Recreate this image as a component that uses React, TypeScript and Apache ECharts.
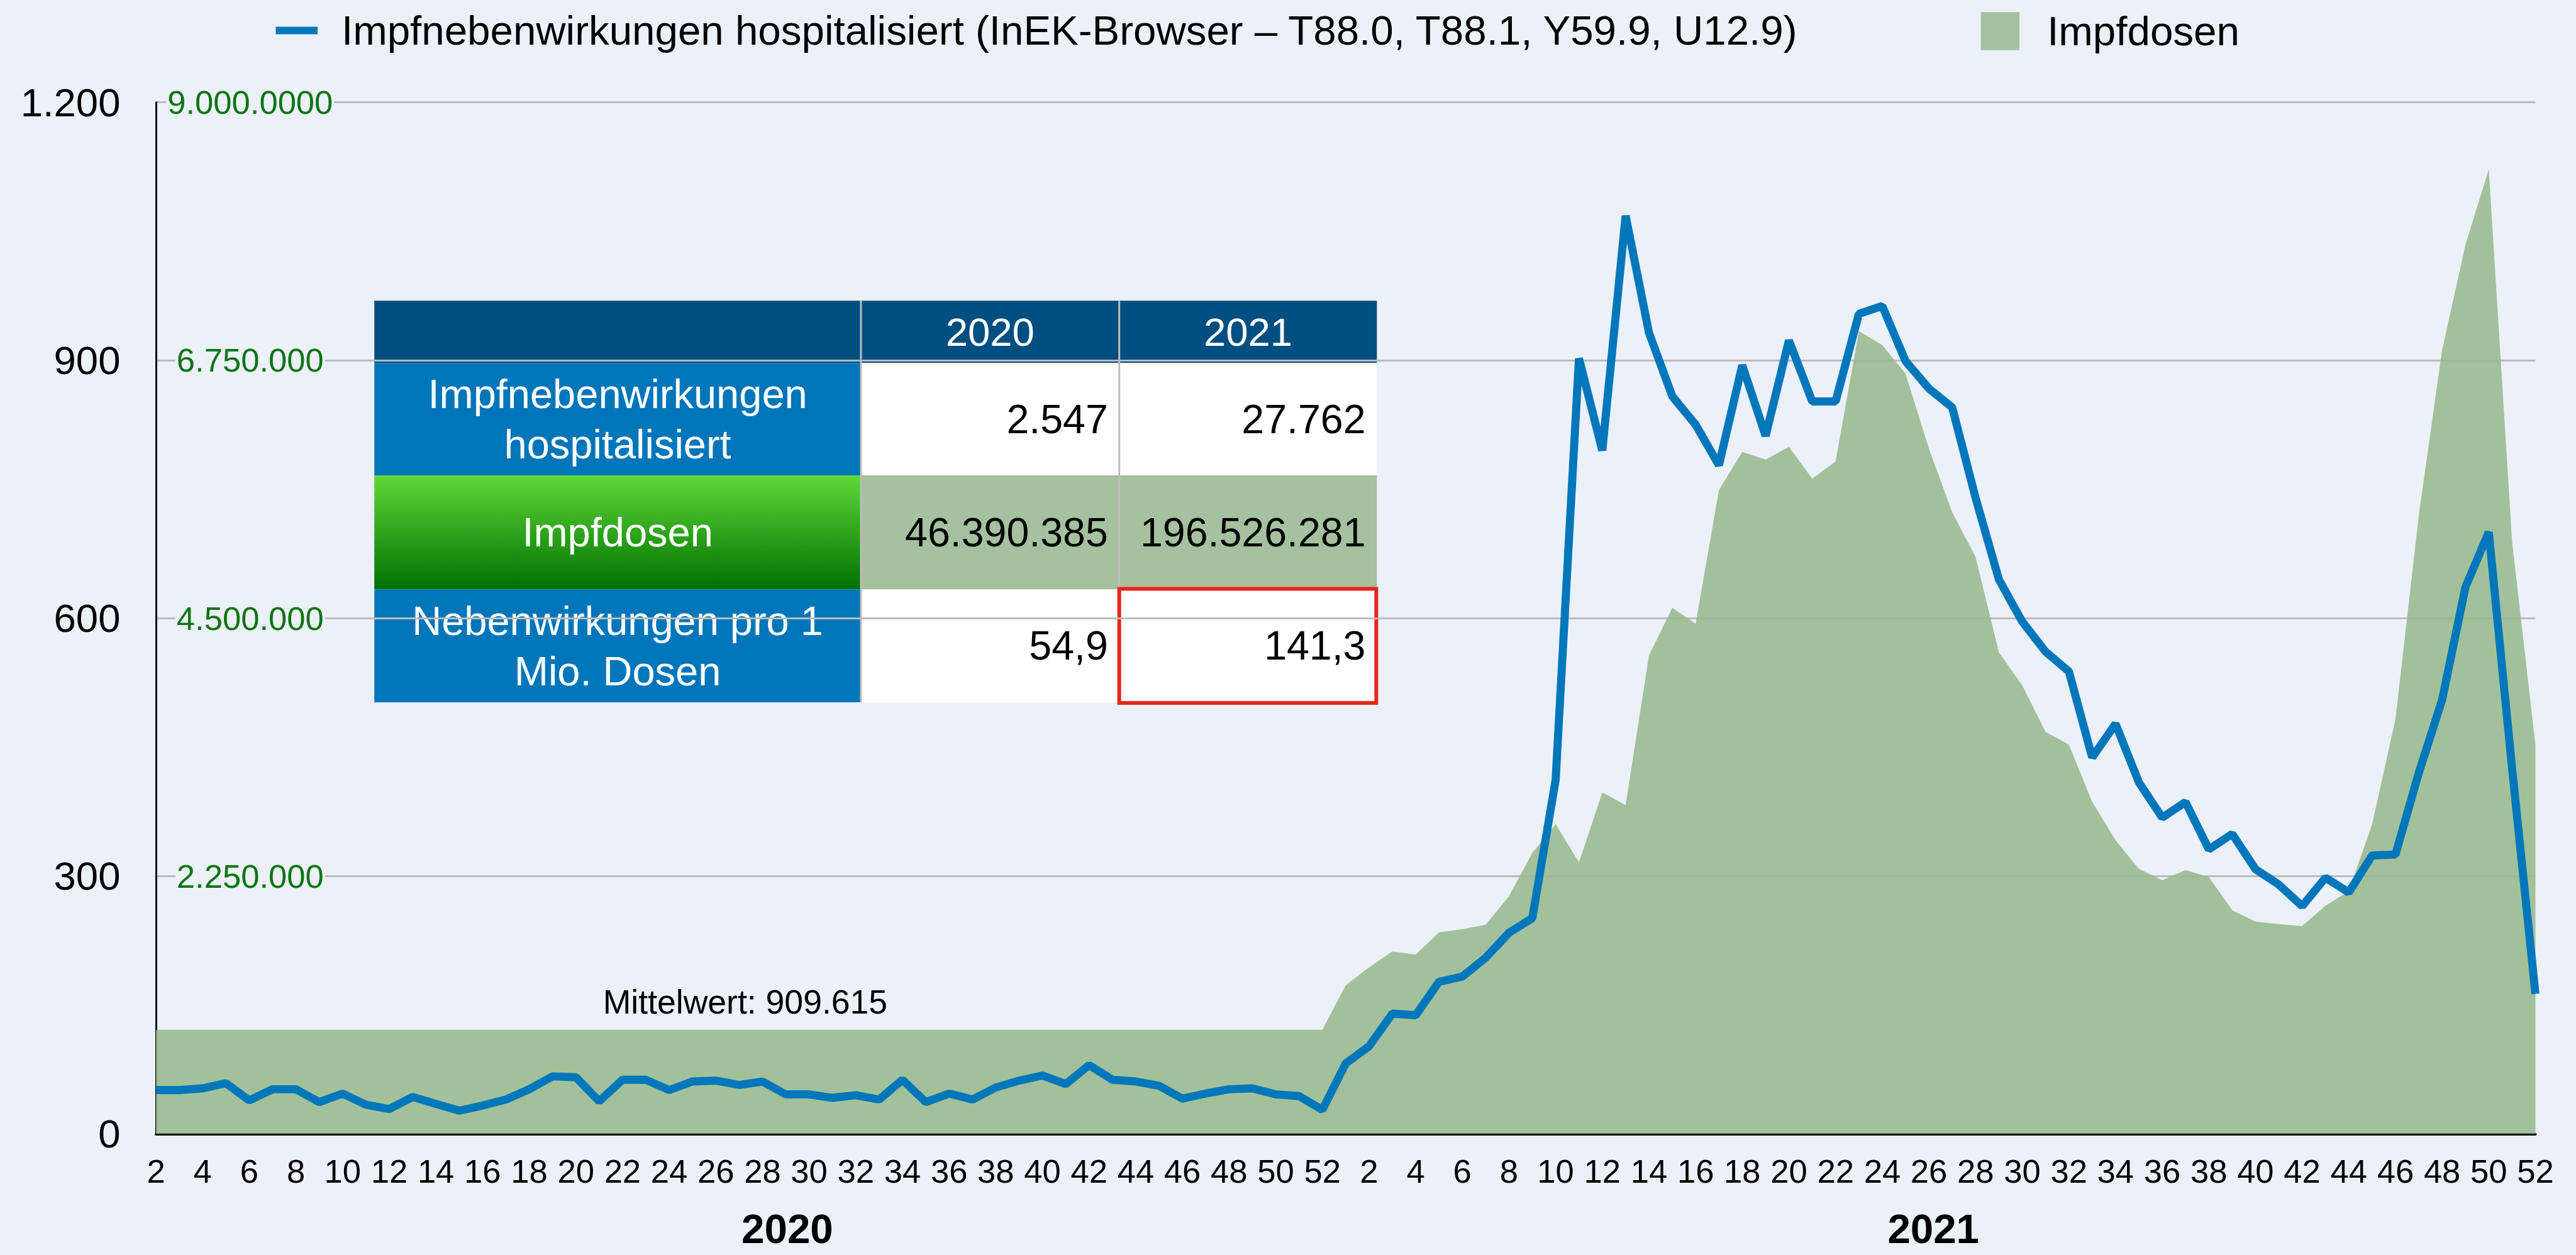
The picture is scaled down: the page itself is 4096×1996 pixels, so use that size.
import React, { useEffect, useRef } from 'react';
import * as echarts from 'echarts';

// ---------- data ----------
const weeks2020 = [2, 3, 4, 5, 6, 7, 8, 9, 10, 11, 12, 13, 14, 15, 16, 17, 18, 19, 20, 21, 22, 23, 24, 25, 26, 27, 28, 29, 30, 31, 32, 33, 34, 35, 36, 37, 38, 39, 40, 41, 42, 43, 44, 45, 46, 47, 48, 49, 50, 51, 52];
const weeks2021 = [1, 2, 3, 4, 5, 6, 7, 8, 9, 10, 11, 12, 13, 14, 15, 16, 17, 18, 19, 20, 21, 22, 23, 24, 25, 26, 27, 28, 29, 30, 31, 32, 33, 34, 35, 36, 37, 38, 39, 40, 41, 42, 43, 44, 45, 46, 47, 48, 49, 50, 51, 52];

const hosp2020 = [51, 51, 53, 59, 39, 52, 52, 37, 47, 34, 29, 43, 35, 27, 33, 40, 52, 67, 66, 38, 63, 63, 51, 61, 62, 57, 61, 46, 46, 42, 45, 40, 63, 37, 47, 40, 54, 62, 68, 58, 80, 63, 61, 56, 41, 47, 52, 53, 46, 44, 28];
const hosp2021 = [82, 102, 140, 138, 177, 183, 205, 234, 251, 412, 902, 795, 1068, 932, 858, 825, 778, 894, 812, 923, 852, 852, 954, 963, 899, 867, 845, 740, 645, 596, 561, 538, 438, 477, 409, 368, 386, 331, 349, 308, 290, 265, 298, 281, 324, 325, 420, 505, 636, 700, 425, 163];

const doses2020 = [909615, 909615, 909615, 909615, 909615, 909615, 909615, 909615, 909615, 909615, 909615, 909615, 909615, 909615, 909615, 909615, 909615, 909615, 909615, 909615, 909615, 909615, 909615, 909615, 909615, 909615, 909615, 909615, 909615, 909615, 909615, 909615, 909615, 909615, 909615, 909615, 909615, 909615, 909615, 909615, 909615, 909615, 909615, 909615, 909615, 909615, 909615, 909615, 909615, 909615, 909615];
const doses2021 = [1297000, 1453000, 1592000, 1564000, 1758000, 1786000, 1825000, 2075000, 2452000, 2702000, 2369000, 2980000, 2869000, 4173000, 4590000, 4451000, 5617000, 5950000, 5883000, 5994000, 5717000, 5867000, 7005000, 6883000, 6633000, 5978000, 5423000, 5034000, 4201000, 3913000, 3507000, 3396000, 2896000, 2563000, 2313000, 2213000, 2302000, 2241000, 1952000, 1852000, 1830000, 1814000, 1991000, 2119000, 2702000, 3618000, 5395000, 6839000, 7756000, 8415000, 5168000, 3392000];

const leftTickLabels = ['0', '300', '600', '900', '1.200'];
const rightTickLabels = ['0', '2.250.000', '4.500.000', '6.750.000', '9.000.0000'];
const yearLabels = ['2020', '2021'];
const meanLabel = 'Mittelwert: 909.615';

const lineName = 'Impfnebenwirkungen hospitalisiert (InEK-Browser – T88.0, T88.1, Y59.9, U12.9)';
const areaName = 'Impfdosen';

const tableHeader = ['2020', '2021'];
const tableRowLabels = ['Impfnebenwirkungen\nhospitalisiert', 'Impfdosen', 'Nebenwirkungen pro 1\nMio. Dosen'];
const tableValues = [
  ['2.547', '27.762'],
  ['46.390.385', '196.526.281'],
  ['54,9', '141,3'],
];

// ---------- layout ----------
const S = 0.992;
const W = 4096;
const H = 1996;
const BG = '#ECF0F9';
const FONT = '"Liberation Sans", Arial, Helvetica, sans-serif';
const BLUE = '#0077BB';
const AREA = '#A3C29D';

function buildTable(): any[] {
  const TX = [600, 1380, 1794, 2207];
  const TY = [482, 582, 762, 945, 1126];
  const els: any[] = [];
  const r = (x0: number, y0: number, x1: number, y1: number, fill: any) => ({
    type: 'rect',
    shape: { x: x0 * S, y: y0 * S, width: (x1 - x0) * S, height: (y1 - y0) * S },
    style: { fill },
    silent: true,
  });
  // header
  els.push(r(TX[0], TY[0], TX[3], TY[1], '#004F80'));
  // label column
  els.push(r(TX[0], TY[1], TX[1], TY[2], '#0076BA'));
  els.push(
    r(TX[0], TY[2], TX[1], TY[3], new echarts.graphic.LinearGradient(0, 0, 0, 1, [
      { offset: 0, color: '#5FD839' },
      { offset: 1, color: '#007000' },
    ]))
  );
  els.push(r(TX[0], TY[3], TX[1], TY[4], '#0076BA'));
  // value cells
  els.push(r(TX[1], TY[1], TX[3], TY[2], '#FFFFFF'));
  els.push(r(TX[1], TY[2], TX[3], TY[3], '#A5C19F'));
  els.push(r(TX[1], TY[3], TX[3], TY[4], '#FFFFFF'));
  // separators
  [TX[1], TX[2]].forEach((x) => {
    els.push({
      type: 'line',
      shape: { x1: x * S, y1: TY[0] * S, x2: x * S, y2: TY[4] * S },
      style: { stroke: '#BDBDBD', lineWidth: 3 },
      silent: true,
    });
  });
  // header texts
  tableHeader.forEach((t, i) => {
    els.push({
      type: 'text',
      x: ((TX[i + 1] + TX[i + 2]) / 2) * S,
      y: ((TY[0] + TY[1]) / 2) * S,
      style: { text: t, fill: '#FFFFFF', fontSize: 64 * S, fontFamily: FONT, align: 'center', verticalAlign: 'middle' },
      silent: true,
    });
  });
  // row labels and values
  tableRowLabels.forEach((t, i) => {
    const cy = ((TY[i + 1] + TY[i + 2]) / 2) * S;
    els.push({
      type: 'text',
      x: ((TX[0] + TX[1]) / 2) * S,
      y: cy,
      style: { text: t, fill: '#FFFFFF', fontSize: 65.5 * S, lineHeight: 80.5 * S, fontFamily: FONT, align: 'center', verticalAlign: 'middle' },
      silent: true,
    });
    tableValues[i].forEach((v, j) => {
      els.push({
        type: 'text',
        x: (TX[j + 2] - 18) * S,
        y: cy,
        style: { text: v, fill: '#000000', fontSize: 65 * S, fontFamily: FONT, align: 'right', verticalAlign: 'middle' },
        silent: true,
      });
    });
  });
  // red highlight box
  els.push({
    type: 'rect',
    shape: { x: 1794 * S, y: 944 * S, width: 412 * S, height: 183 * S },
    style: { fill: 'none', stroke: '#E8261A', lineWidth: 6 },
    silent: true,
  });
  return els;
}

export default function App() {
  const ref = useRef<HTMLDivElement>(null);

  useEffect(() => {
    document.body.style.margin = '0';
    const chart = echarts.init(ref.current!, null, { renderer: 'svg' });

    const categories = [...weeks2020, ...weeks2021].map(String);
    const hosp = [...hosp2020, ...hosp2021];
    const doses = [...doses2020, ...doses2021];

    const option: any = {
      animation: false,
      backgroundColor: BG,
      textStyle: { fontFamily: FONT },
      legend: [
        {
          data: [{ name: lineName, icon: 'rect' }],
          left: 437 * S,
          top: 11,
          itemWidth: 67 * S,
          itemHeight: 12 * S,
          selectedMode: false,
          textStyle: { fontSize: 66 * S, color: '#000', fontFamily: FONT, padding: [0, 0, 0, 33] },
        },
        {
          data: [{ name: areaName, icon: 'rect', itemStyle: { color: AREA } }],
          left: 3170 * S,
          top: 12 * S,
          itemWidth: 62 * S,
          itemHeight: 61 * S,
          selectedMode: false,
          textStyle: { fontSize: 66 * S, color: '#000', fontFamily: FONT, padding: [0, 0, 0, 39] },
        },
      ],
      grid: {
        left: 250 * S,
        right: W - 4064 * S,
        top: 164 * S,
        bottom: H - 1818 * S,
        containLabel: false,
        outerBoundsMode: 'none',
      },
      xAxis: {
        type: 'category',
        data: categories,
        boundaryGap: false,
        axisLine: { show: true, lineStyle: { color: '#000', width: 4 } },
        axisTick: { show: false },
        axisLabel: { interval: 1, fontSize: 53 * S, color: '#000', margin: 33, fontFamily: FONT },
        splitLine: { show: false },
      },
      yAxis: [
        {
          type: 'value',
          min: 0,
          max: 1200,
          interval: 300,
          axisLine: { show: true, lineStyle: { color: '#000', width: 3 } },
          axisTick: { show: false },
          axisLabel: {
            fontSize: 64 * S,
            color: '#000',
            margin: 57 * S,
            fontFamily: FONT,
            formatter: (_v: number, i: number) => leftTickLabels[i],
          },
          splitLine: { show: true, lineStyle: { color: '#BBBBBB', width: 3 } },
        },
        {
          type: 'value',
          position: 'left',
          min: 0,
          max: 9000000,
          interval: 2250000,
          axisLine: { show: false },
          axisTick: { show: false },
          splitLine: { show: false },
          axisLabel: {
            inside: true,
            showMinLabel: false,
            margin: 151 * S,
            align: 'center',
            fontSize: 53 * S,
            color: '#0B7512',
            fontFamily: FONT,
            backgroundColor: BG,
            padding: [0, 2],
            formatter: (_v: number, i: number) => rightTickLabels[i],
          },
        },
      ],
      graphic: [
        {
          type: 'text',
          x: 1194.5 * S,
          y: 1606.5 * S,
          style: { text: meanLabel, fill: '#000', fontSize: 54 * S, fontFamily: FONT, align: 'center', verticalAlign: 'middle' },
          z: 50,
          silent: true,
        },
        {
          type: 'text',
          x: 1262 * S,
          y: 1977 * S - 7,
          style: { text: yearLabels[0], fill: '#000', fontSize: 66 * S, fontWeight: 'bold', fontFamily: FONT, align: 'center', verticalAlign: 'middle' },
          silent: true,
        },
        {
          type: 'text',
          x: 3099 * S,
          y: 1977 * S - 7,
          style: { text: yearLabels[1], fill: '#000', fontSize: 66 * S, fontWeight: 'bold', fontFamily: FONT, align: 'center', verticalAlign: 'middle' },
          silent: true,
        },
        {
          type: 'group',
          z: 100,
          children: buildTable(),
        },
      ],
      series: [
        {
          name: areaName,
          type: 'line',
          yAxisIndex: 1,
          data: doses,
          symbol: 'none',
          itemStyle: { color: AREA },
          lineStyle: { width: 0 },
          areaStyle: { color: 'rgb(149,185,140)', opacity: 0.86 },
          z: 1,
        },
        {
          name: lineName,
          type: 'line',
          yAxisIndex: 0,
          data: hosp,
          symbol: 'none',
          itemStyle: { color: BLUE },
          lineStyle: { color: BLUE, width: 13 * S },
          z: 3,
        },
      ],
    };

    chart.setOption(option);
    return () => chart.dispose();
  }, []);

  return <div ref={ref} style={{ position: 'fixed', left: 0, top: 0, width: W, height: H }} />;
}
